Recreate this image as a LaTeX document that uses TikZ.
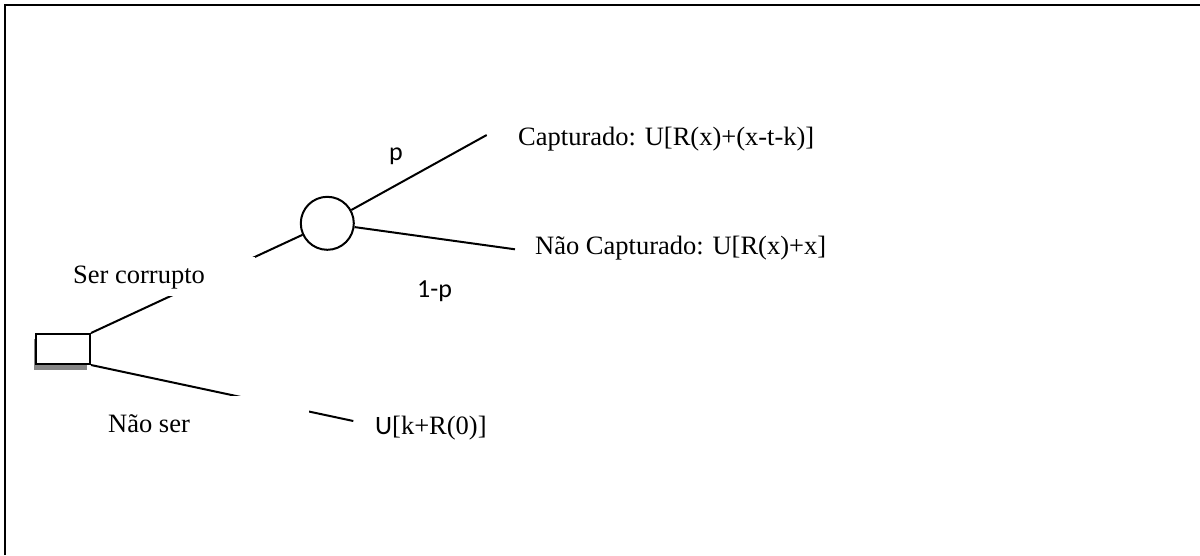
\documentclass[tikz,border=0pt]{standalone}
\usepackage{fontspec}
\setmainfont{Liberation Serif}
\newfontfamily\carl{Carlito}
\begin{document}
\begin{tikzpicture}[x=1pt,y=-1pt,
  line/.style={line width=2pt, black},
  serif/.style={font=\fontsize{26.5}{32}\selectfont, inner sep=0pt},
  sans/.style={font=\carl\fontsize{26}{32}\selectfont, inner sep=0pt},
  mask/.style={fill=white, draw=none}]
\useasboundingbox (0,0) rectangle (1200,555);
% frame
\draw[line width=2pt] (5,555) -- (5,5) -- (1200,5);
% decision box with shadow
\fill[gray!95] (34,339) rectangle (87,370);
\node[draw, line width=2pt, fill=white, rectangle, minimum width=54pt, minimum height=30pt, inner sep=0pt] (box) at (63,349) {};
% chance node
\node[draw, line width=2pt, circle, minimum size=53pt, inner sep=0pt] (c) at (327.3,223.3) {};
% branch ends
\coordinate (capEnd) at (486.7,135);
\coordinate (ncapEnd) at (515,249.3);
\coordinate (nsEnd) at (353.3,421);
% connectors
\draw[line] (box.north east) -- (c);
\draw[line] (box.south east) -- (nsEnd);
\draw[line] (c) -- (capEnd);
\draw[line] (c) -- (ncapEnd);
% label masks
\fill[mask] (65,257) rectangle (255,296);
\fill[mask] (100,396) rectangle (309,455);
% labels
\node[serif, anchor=base west] (ser) at (73,283.3) {Ser corrupto};
\node[serif, anchor=base west] (nao) at (108,432.7) {Não ser};
\node[serif, anchor=base west] (cap) at (518,145.7) {Capturado: U[R(x)+(x-t-k)]};
\node[serif, anchor=base west] (ncap) at (535,254) {Não Capturado: U[R(x)+x]};
\node[serif, anchor=base west] (uk) at (375,434) {{\carl U}[k+R(0)]};
\node[sans, anchor=base west] (p) at (389,160) {p};
\node[sans, anchor=base west] (q) at (417,297) {1-p};
\end{tikzpicture}
\end{document}
